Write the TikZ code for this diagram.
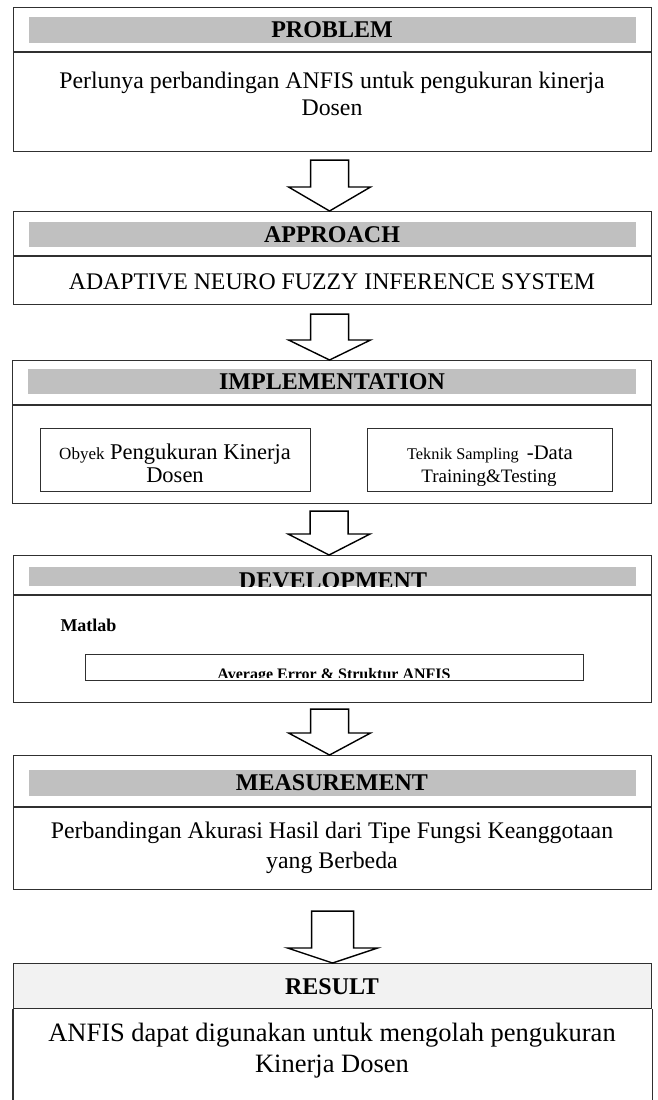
\documentclass[tikz,border=0pt]{standalone}
\usepackage{fontspec}
\setmainfont{Liberation Serif}
\usetikzlibrary{calc}
\definecolor{bandgray}{HTML}{C0C0C0}
\definecolor{headfill}{HTML}{F2F2F2}
\definecolor{edge}{HTML}{303030}

% outlined block arrow between two stacked boxes
% #1 upper node, #2 lower node, #3 gap below upper box, #4 shaft half width,
% #5 head half width, #6 head length, #7 horizontal shift of the axis
\newcommand\flowarrow[7]{%
  \draw[arrowline] let \p1=($(#1.south)+(#7,0)$), \p2=(#2.north) in
    (\x1-#4,\y1-#3) -- (\x1+#4,\y1-#3) -- (\x1+#4,\y2+#6) -- (\x1+#5,\y2+#6)
    -- (\x1,\y2) -- (\x1-#5,\y2+#6) -- (\x1-#4,\y2+#6) -- cycle;}

\begin{document}
\begin{tikzpicture}[x=1pt,y=-1pt,
  stage/.style={draw=edge, line width=1.1pt, rectangle, inner sep=0pt},
  band/.style={fill=bandgray, draw=none, rectangle, inner sep=0pt},
  inner/.style={draw=edge, line width=1pt, rectangle, inner sep=0pt},
  title/.style={font=\bfseries\fontsize{24}{28}\selectfont, inner sep=0pt},
  body/.style={font=\fontsize{23.8}{27}\selectfont, align=center, inner sep=0pt},
  arrowline/.style={draw=black, line width=1.4pt, fill=white, line join=miter}]
\useasboundingbox (0,0) rectangle (658,1100);

% PROBLEM
\node[stage, minimum width=638pt, minimum height=144pt, anchor=north west] (prob) at (13,7) {};
\node[band, minimum width=607pt, minimum height=26pt, anchor=north west] (probband) at (29,17) {};
\draw[edge, line width=1.1pt] (prob.west |- 0,52) -- (prob.east |- 0,52);
\node[title] (probtitle) at (332,30) {PROBLEM};
\node[body] (probtext) at (332,94) {Perlunya perbandingan ANFIS untuk pengukuran kinerja\\Dosen};

% APPROACH
\node[stage, minimum width=638pt, minimum height=93pt, anchor=north west] (appr) at (13,211) {};
\node[band, minimum width=607pt, minimum height=25pt, anchor=north west] (apprband) at (29,222) {};
\draw[edge, line width=1.1pt] (appr.west |- 0,256) -- (appr.east |- 0,256);
\node[title] (apprtitle) at (332,235) {APPROACH};
\node[body] (apprtext) at (332,282) {ADAPTIVE NEURO FUZZY INFERENCE SYSTEM};

% IMPLEMENTATION
\node[stage, minimum width=639pt, minimum height=143pt, anchor=north west] (impl) at (12,360) {};
\node[band, minimum width=608pt, minimum height=25pt, anchor=north west] (implband) at (28,369) {};
\draw[edge, line width=1.1pt] (impl.west |- 0,405) -- (impl.east |- 0,405);
\node[title] (impltitle) at (332,382) {IMPLEMENTATION};
\node[inner, minimum width=270pt, minimum height=63pt, anchor=north west] (obyek) at (40,428) {};
\node[inner, minimum width=245pt, minimum height=63pt, anchor=north west] (teknik) at (367,428) {};
\node[body, font=\fontsize{22.5}{23}\selectfont] (obyektext) at (175,463.5) {{\fontsize{17}{20}\selectfont Obyek} Pengukuran Kinerja\\Dosen};
\begin{scope}
  \clip (teknik.north west) rectangle (teknik.east |- 0,485);
  \node[font=\fontsize{16.3}{20}\selectfont, inner sep=0pt, anchor=base] (teknikline) at (490,459)
    {Teknik Sampling\ \ {\fontsize{20.7}{20}\selectfont -Data}};
  \node[font=\fontsize{19}{20}\selectfont, inner sep=0pt, anchor=base] (trainline) at (489,482) {Training\&Testing};
\end{scope}

% DEVELOPMENT
\node[stage, minimum width=638pt, minimum height=147pt, anchor=north west] (dev) at (13,555) {};
\node[band, minimum width=607pt, minimum height=19pt, anchor=north west] (devband) at (29,567) {};
\draw[edge, line width=1.1pt] (dev.west |- 0,595) -- (dev.east |- 0,595);
\begin{scope}
  \clip (devband.north west) rectangle (devband.south east);
  \node[title, anchor=base] (devtitle) at (333,588) {DEVELOPMENT};
\end{scope}
\node[font=\bfseries\fontsize{18}{20}\selectfont, inner sep=0pt, anchor=base] (matlab) at (88.5,631) {Matlab};
\node[inner, minimum width=498pt, minimum height=26pt, anchor=north west] (avg) at (85,654) {};
\begin{scope}
  \clip (avg.north west) rectangle (avg.east |- 0,677);
  \node[font=\bfseries\fontsize{16}{18}\selectfont, inner sep=0pt, anchor=base] (avgtext) at (334,679) {Average Error \& Struktur ANFIS};
\end{scope}

% MEASUREMENT
\node[stage, minimum width=638pt, minimum height=134pt, anchor=north west] (meas) at (13,755) {};
\node[band, minimum width=607pt, minimum height=26pt, anchor=north west] (measband) at (29,770) {};
\draw[edge, line width=1.1pt] (meas.west |- 0,807) -- (meas.east |- 0,807);
\node[title] (meastitle) at (332,783) {MEASUREMENT};
\node[body, font=\fontsize{23.8}{30}\selectfont] (meastext) at (332,848) {Perbandingan Akurasi Hasil dari Tipe Fungsi Keanggotaan\\yang Berbeda};

% RESULT
\node[stage, fill=headfill, minimum width=638pt, minimum height=45pt, anchor=north west] (reshead) at (13,963) {};
\draw[edge, line width=1.1pt] (reshead.south west) -- ++(0,100) coordinate (resbl);
\draw[edge, line width=1.1pt] (reshead.south east) -- ++(0,100) coordinate (resbr);
\node[title] (restitle) at (332,987) {RESULT};
\node[body, font=\fontsize{26.5}{31}\selectfont] (restext) at (332,1051) {ANFIS dapat digunakan untuk mengolah pengukuran\\Kinerja Dosen};

% arrows between the stages
\flowarrow{prob}{appr}{8pt}{19pt}{41pt}{24pt}{-3pt}
\flowarrow{appr}{impl}{9pt}{19pt}{41pt}{20pt}{-3pt}
\flowarrow{impl}{dev}{7pt}{19pt}{41pt}{21pt}{-3pt}
\flowarrow{dev}{meas}{6pt}{19pt}{41pt}{22pt}{-3pt}
\flowarrow{meas}{reshead}{21pt}{21pt}{45pt}{15pt}{0pt}
\end{tikzpicture}
\end{document}
